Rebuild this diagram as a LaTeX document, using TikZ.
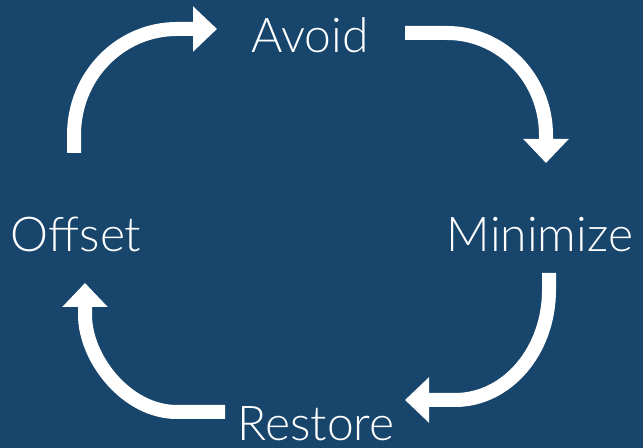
\documentclass[tikz,border=0pt]{standalone}
\usepackage{fontspec}
\setmainfont{Lato}[UprightFont={* Light}]
\usepackage{tikz}
\usetikzlibrary{arrows.meta,positioning}
\definecolor{bgblue}{RGB}{24,69,108}
\tikzset{
  word/.style={text=white, font=\fontsize{36pt}{42pt}\selectfont, inner sep=0pt, anchor=base},
  cycle arrow/.style={draw=white, line width=10.5pt, -{Triangle[width=33pt,length=18pt]}}
}

\begin{document}
\begin{tikzpicture}[x=0.75pt,y=-0.75pt]
      \fill[bgblue] (0,0) rectangle (643,448);
      \useasboundingbox (0,0) rectangle (643,448);

      \node[word] (avoid) at (310,53) {Avoid};
      \node[word] (minimize) at (540,252) {Minimize};
      \node[word] (restore) at (316,441) {Restore};
      \node[word] (offset) at (76,252) {Offset};

      % ends of the arrows
      \coordinate (a1) at (74,153);  \coordinate (b1) at (217,29);
      \coordinate (a2) at (405,33);  \coordinate (b2) at (546,163);
      \coordinate (a3) at (549,273); \coordinate (b3) at (405,400);
      \coordinate (a4) at (225,412); \coordinate (b4) at (85,283);

      \draw[cycle arrow] (a1) -- (74,135) .. controls (74,76) and (120,29) .. (177,29) -- (b1);
      \draw[cycle arrow] (a2) -- (447,33) .. controls (502,33) and (546,79) .. (546,135) -- (b2);
      \draw[cycle arrow] (a3) -- (549,290) .. controls (549,351) and (507,400) .. (455,400) -- (b3);
      \draw[cycle arrow] (a4) -- (177,412) .. controls (126,412) and (85,358) .. (85,315) -- (b4);
    \end{tikzpicture}
\end{document}
